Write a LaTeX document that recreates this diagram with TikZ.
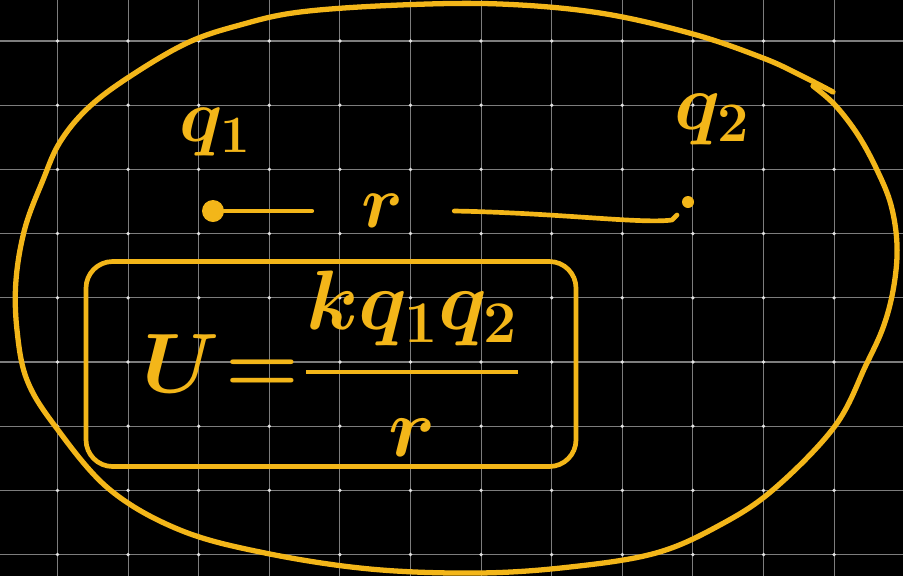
\RequirePackage{fix-cm}
\documentclass[tikz,border=0pt]{standalone}
\usepackage{amsmath}
\usepackage{xcolor}
\usepackage{tikz}
\definecolor{penyellow}{RGB}{243,182,25}
\definecolor{gridgray}{RGB}{125,125,125}
\definecolor{gridwhite}{RGB}{225,225,225}

\begin{document}
\begin{tikzpicture}[x=0.03cm, y=-0.03cm, pen/.style={draw=penyellow, line width=4pt, line cap=round, line join=round}, lbl/.style={text=penyellow, font=\fontsize{64}{70}\selectfont\boldmath, inner sep=0pt}, dotmark/.style={circle, fill=penyellow, inner sep=0pt}, frame/.style={pen, rounded corners=0.8cm, minimum width=14.7cm, minimum height=6.15cm, inner sep=0pt, text=penyellow, font=\fontsize{72}{80}\selectfont\boldmath}]
    \fill[black] (0,0) rectangle (903,576);
    \useasboundingbox (0,0) rectangle (903,576);
    \foreach \i in {0,...,11} \draw[gridgray, line width=0.9pt] (57.5+70.6*\i,0) -- (57.5+70.6*\i,576);
    \foreach \j in {0,...,8} \draw[gridgray, line width=0.9pt] (0,41+64.2*\j) -- (903,41+64.2*\j);
    \foreach \i in {0,...,11} \foreach \j in {0,...,8} \fill[gridwhite] (57.5+70.6*\i,41+64.2*\j) circle (1.6pt);
    \draw[pen, line width=4.5pt] plot[smooth, tension=0.6] coordinates {(833,92) (800,75) (763,58) (693,34) (600,13) (500,4) (400,5) (300,12) (240,25) (187,43) (129,77) (88,108) (60,142) (43,180) (25,228) (16,280) (17,330) (27,380) (55,426) (109,489) (180,530) (265,553) (370,569) (478,573) (570,567) (656,553) (720,525) (774,489) (835,426) (866,365) (884,325) (894,285) (897,245) (891,205) (877,170) (858,135) (835,105) (813,86)};
    \node[dotmark, minimum size=0.66cm] (q1dot) at (213,211) {};
    \node[dotmark, minimum size=0.36cm] (q2dot) at (688,202) {};
    \node[lbl] (q1label) at (215,132) {$q_1$};
    \node[lbl, font=\fontsize{68}{74}\selectfont\boldmath] (q2label) at (712,120) {$q_2$};
    \node[lbl, minimum width=4.26cm] (rlabel) at (383,211) {$r$};
    \coordinate (lineend) at (672,220);
    \draw[pen] (q1dot) -- (rlabel.west);
    \draw[pen] (rlabel.east) .. controls (560,213) and (640,224) .. (lineend) -- ++(5,-5);
    \node[frame] (formula) at (331,364) {$U\mkern-4mu=\mkern-4mu\genfrac{}{}{3pt}{0}{kq_1q_2}{r}$};
\end{tikzpicture}
\end{document}
